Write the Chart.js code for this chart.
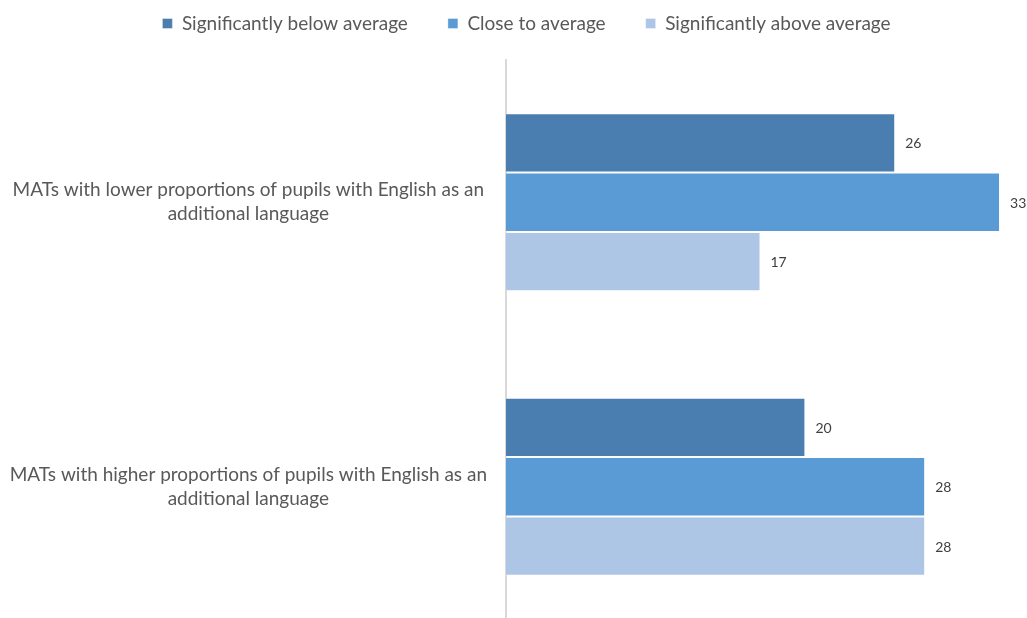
<!DOCTYPE html>
<html>
<head>
<meta charset="utf-8">
<script src="https://cdn.jsdelivr.net/npm/chart.js@4"></script>
<style>
    html, body { margin: 0; padding: 0; background: #fff; overflow: hidden; }
    #wrap { width: 1027px; height: 630px; }
</style>
</head>
<body>
<div id="wrap"><canvas id="chart" width="1027" height="630"></canvas></div>
<script>
// Data
const categories = [
    ['MATs with lower proportions of pupils with English as an', 'additional language'],
    ['MATs with higher proportions of pupils with English as an', 'additional language']
];
const seriesNames = ['Significantly below average', 'Close to average', 'Significantly above average'];
const belowAverage = [26, 20];
const closeToAverage = [33, 28];
const aboveAverage = [17, 28];

const colors = ['#4a7eb0', '#5b9bd5', '#adc6e6'];
const fontFamily = "Lato, 'Open Sans', sans-serif";

// Value labels at the end of each bar
const valueLabels = {
    id: 'valueLabels',
    afterDatasetsDraw(chart) {
        const ctx = chart.ctx;
        ctx.save();
        ctx.font = '14px ' + fontFamily;
        ctx.fillStyle = '#404040';
        ctx.textAlign = 'left';
        ctx.textBaseline = 'middle';
        chart.data.datasets.forEach((ds, i) => {
            chart.getDatasetMeta(i).data.forEach((bar, j) => {
                ctx.fillText(ds.data[j], bar.x + 10, bar.y + 1);
            });
        });
        ctx.restore();
    }
};

// Extra room under the legend, and nudge it right a little
const legendSpace = {
    id: 'legendSpace',
    beforeLayout(chart) {
        const legend = chart.legend;
        if (legend && !legend._patched) {
            const fit = legend.fit;
            legend.fit = function () {
                fit.call(this);
                this.height += 17;
            };
            legend._patched = true;
        }
    },
    afterLayout(chart) {
        chart.legend.left += 19;
        chart.legend.right += 19;
    }
};

const ctx = document.getElementById('chart').getContext('2d');
new Chart(ctx, {
    type: 'bar',
    data: {
        labels: categories,
        datasets: [
            { label: seriesNames[0], data: belowAverage, backgroundColor: colors[0] },
            { label: seriesNames[1], data: closeToAverage, backgroundColor: colors[1] },
            { label: seriesNames[2], data: aboveAverage, backgroundColor: colors[2] }
        ]
    },
    options: {
        indexAxis: 'y',
        responsive: false,
        animation: false,
        layout: { padding: { left: 0, right: 12, top: -26, bottom: 1 } },
        datasets: {
            bar: {
                categoryPercentage: 0.625,
                barPercentage: 1.0,
                borderWidth: { top: 1, bottom: 1, right: 1, left: 0 },
                borderColor: 'rgba(255,255,255,0.5)'
            }
        },
        scales: {
            x: {
                display: false,
                min: 0,
                max: 34
            },
            y: {
                grid: { display: false, drawTicks: false },
                border: { display: true, color: '#d9d9d9', width: 2 },
                afterFit(scale) {
                    scale.width = 506;
                    scale.paddingTop = 0;
                    scale.paddingBottom = 0;
                },
                ticks: {
                    crossAlign: 'center',
                    padding: 19,
                    color: '#595959',
                    font: { family: fontFamily, size: 19, lineHeight: 1.26 }
                }
            }
        },
        plugins: {
            legend: {
                position: 'top',
                labels: {
                    boxWidth: 10,
                    boxHeight: 10,
                    padding: 40,
                    color: '#595959',
                    font: { family: fontFamily, size: 19 }
                }
            },
            tooltip: { enabled: false }
        }
    },
    plugins: [valueLabels, legendSpace]
});
</script>
</body>
</html>
